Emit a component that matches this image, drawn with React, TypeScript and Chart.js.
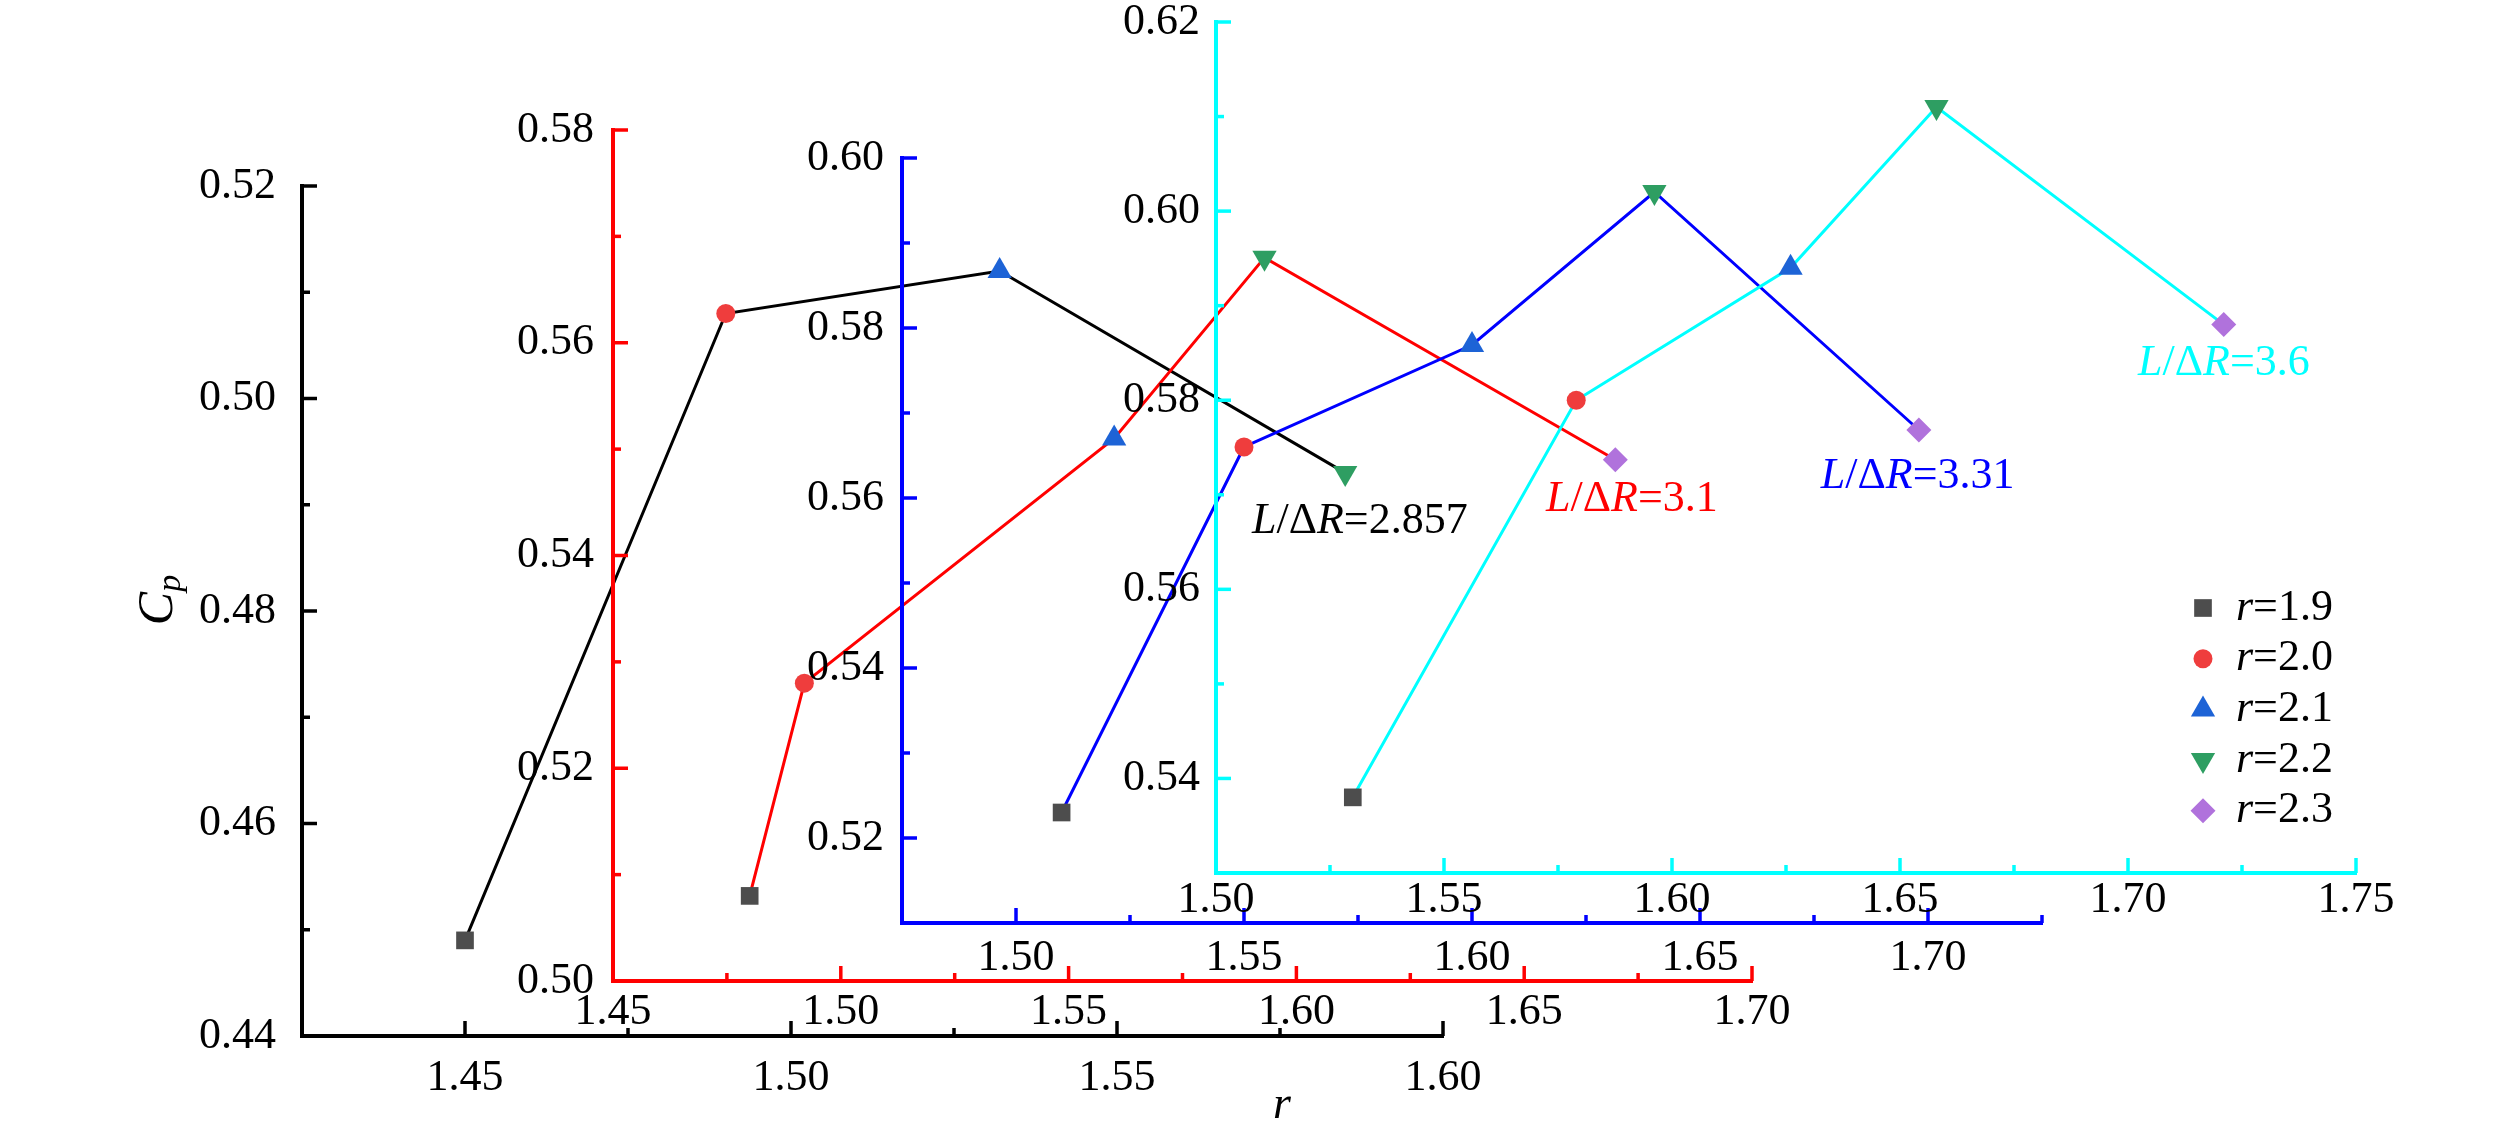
import React, { useEffect, useRef } from 'react';
import { Chart, registerables } from 'chart.js';
import { drawPoint } from 'chart.js/helpers';

Chart.register(...registerables);

const PAGE_W = 2519;
const PAGE_H = 1134;
const FONT = '"Liberation Serif", "Times New Roman", serif';

// r values of the legend, one marker type per value
const R_LABELS = ['1.9', '2.0', '2.1', '2.2', '2.3'];

// L/ΔR = 2.857 (black axes)
const R_2857 = [1.45, 1.49, 1.532, 1.585];
const CP_2857 = [0.449, 0.508, 0.512, 0.493];
// L/ΔR = 3.1 (red axes)
const R_31 = [1.48, 1.492, 1.56, 1.593, 1.67];
const CP_31 = [0.508, 0.528, 0.551, 0.568, 0.549];
// L/ΔR = 3.31 (blue axes)
const R_331 = [1.51, 1.55, 1.6, 1.64, 1.698];
const CP_331 = [0.523, 0.566, 0.578, 0.596, 0.568];
// L/ΔR = 3.6 (cyan axes)
const R_36 = [1.53, 1.579, 1.626, 1.658, 1.721];
const CP_36 = [0.538, 0.58, 0.594, 0.611, 0.588];

// tick labels
const X_TICKS_2857 = [1.45, 1.5, 1.55, 1.6];
const Y_TICKS_2857 = [0.44, 0.46, 0.48, 0.5, 0.52];
const X_TICKS_31 = [1.45, 1.5, 1.55, 1.6, 1.65, 1.7];
const Y_TICKS_31 = [0.5, 0.52, 0.54, 0.56, 0.58];
const X_TICKS_331 = [1.5, 1.55, 1.6, 1.65, 1.7];
const Y_TICKS_331 = [0.52, 0.54, 0.56, 0.58, 0.6];
const X_TICKS_36 = [1.5, 1.55, 1.6, 1.65, 1.7, 1.75];
const Y_TICKS_36 = [0.54, 0.56, 0.58, 0.6, 0.62];

const MARKERS = [
  { style: 'rect', rotation: 0, radius: 12.5, color: '#4d4d4d' },
  { style: 'circle', rotation: 0, radius: 9.5, color: '#ef3d3d' },
  { style: 'triangle', rotation: 0, radius: 14, color: '#1d63d6' },
  { style: 'triangle', rotation: 180, radius: 14, color: '#2e9e62' },
  { style: 'rectRot', rotation: 0, radius: 12.5, color: '#b072dc' },
];

interface Panel {
  name: string;
  color: string;
  xs: number[];
  ys: number[];
  xTicks: number[];
  yTicks: number[];
  xMin: number;
  xMax: number;
  yMin: number;
  yMax: number;
  area: { left: number; top: number; right: number; bottom: number };
  yPad: number;
  xPad: number;
  labelAt: [number, number];
}

const PANELS: Panel[] = [
  {
    name: '2.857', color: '#000000', xs: R_2857, ys: CP_2857,
    xTicks: X_TICKS_2857, yTicks: Y_TICKS_2857,
    xMin: 1.425, xMax: 1.6, yMin: 0.44, yMax: 0.52,
    area: { left: 302, top: 186, right: 1443, bottom: 1036 },
    yPad: 26, xPad: 20, labelAt: [1.5707, 0.4884],
  },
  {
    name: '3.1', color: '#ff0000', xs: R_31, ys: CP_31,
    xTicks: X_TICKS_31, yTicks: Y_TICKS_31,
    xMin: 1.45, xMax: 1.7, yMin: 0.5, yMax: 0.58,
    area: { left: 613, top: 130, right: 1752, bottom: 981 },
    yPad: 19, xPad: 9, labelAt: [1.6548, 0.5453],
  },
  {
    name: '3.31', color: '#0000ff', xs: R_331, ys: CP_331,
    xTicks: X_TICKS_331, yTicks: Y_TICKS_331,
    xMin: 1.475, xMax: 1.725, yMin: 0.51, yMax: 0.6,
    area: { left: 902, top: 158, right: 2042, bottom: 923 },
    yPad: 18, xPad: 13, labelAt: [1.6765, 0.5625],
  },
  {
    name: '3.6', color: '#00ffff', xs: R_36, ys: CP_36,
    xTicks: X_TICKS_36, yTicks: Y_TICKS_36,
    xMin: 1.5, xMax: 1.75, yMin: 0.53, yMax: 0.62,
    area: { left: 1216, top: 22, right: 2356, bottom: 873 },
    yPad: 16, xPad: 5, labelAt: [1.7022, 0.5839],
  },
];

type Run = { t: string; it?: boolean };

function drawRuns(ctx: CanvasRenderingContext2D, runs: Run[], x: number, y: number, size: number, color: string) {
  ctx.fillStyle = color;
  ctx.textBaseline = 'middle';
  ctx.textAlign = 'left';
  let cx = x;
  for (const r of runs) {
    ctx.font = `${r.it ? 'italic ' : ''}${size}px ${FONT}`;
    ctx.fillText(r.t, cx, y);
    cx += ctx.measureText(r.t).width;
  }
}

const Y_AXIS_W = 140;
const X_AXIS_H = 60;

function buildConfig(panel: Panel, index: number): any {
  const { area } = panel;

  const inwardTicks = {
    id: 'inwardTicks',
    afterDraw(chart: Chart) {
      const { ctx, chartArea } = chart;
      const sx: any = chart.scales.x;
      const sy: any = chart.scales.y;
      ctx.save();
      ctx.strokeStyle = panel.color;
      ctx.lineWidth = 3.5;
      const each = (scale: any, majors: number[], draw: (p: number, len: number) => void) => {
        const half = (majors[1] - majors[0]) / 2;
        const k0 = Math.ceil((scale.min - majors[0]) / half - 1e-6);
        for (let k = k0; majors[0] + k * half <= scale.max + 1e-9; k++) {
          const v = majors[0] + k * half;
          const major = majors.some((m) => Math.abs(m - v) < 1e-6);
          draw(scale.getPixelForValue(v), major ? 15 : 8);
        }
      };
      each(sx, panel.xTicks, (px, len) => {
        ctx.beginPath();
        ctx.moveTo(px, chartArea.bottom);
        ctx.lineTo(px, chartArea.bottom - len);
        ctx.stroke();
      });
      each(sy, panel.yTicks, (py, len) => {
        ctx.beginPath();
        ctx.moveTo(chartArea.left, py);
        ctx.lineTo(chartArea.left + len, py);
        ctx.stroke();
      });
      ctx.restore();
    },
  };

  const decorations = {
    id: 'decorations',
    afterDraw(chart: Chart) {
      const { ctx, chartArea } = chart;
      const sx: any = chart.scales.x;
      const sy: any = chart.scales.y;
      ctx.save();
      // L/ΔR label
      drawRuns(
        ctx,
        [{ t: 'L', it: true }, { t: '/' }, { t: 'Δ' }, { t: 'R', it: true }, { t: '=' + panel.name }],
        sx.getPixelForValue(panel.labelAt[0]),
        sy.getPixelForValue(panel.labelAt[1]),
        44,
        panel.color,
      );

      if (index === 0) {
        // axis titles
        ctx.save();
        ctx.translate(chartArea.left - 130, 600);
        ctx.rotate(-Math.PI / 2);
        ctx.fillStyle = '#000';
        ctx.textBaseline = 'alphabetic';
        ctx.font = `italic 50px ${FONT}`;
        const wC = ctx.measureText('C').width;
        ctx.font = `italic 34px ${FONT}`;
        const wp = ctx.measureText('p').width;
        const start = -(wC + wp) / 2;
        ctx.font = `italic 50px ${FONT}`;
        ctx.fillText('C', start, 0);
        ctx.font = `italic 34px ${FONT}`;
        ctx.fillText('p', start + wC, 8);
        ctx.restore();

        ctx.fillStyle = '#000';
        ctx.font = `italic 46px ${FONT}`;
        ctx.textAlign = 'center';
        ctx.textBaseline = 'alphabetic';
        ctx.fillText('r', chartArea.left + 980, chartArea.bottom + 82);
      }

      if (index === PANELS.length - 1) {
        // legend
        const mx = chartArea.right - 153;
        const y0 = chartArea.bottom - 265;
        R_LABELS.forEach((lab, i) => {
          const m = MARKERS[i];
          const y = y0 + i * 50.7;
          ctx.fillStyle = m.color;
          drawPoint(ctx, { pointStyle: m.style as any, rotation: m.rotation, radius: m.radius, borderWidth: 0 }, mx, y);
          drawRuns(ctx, [{ t: 'r', it: true }, { t: '=' + lab }], mx + 33, y, 44, '#000');
        });
      }
      ctx.restore();
    },
  };

  const tickFont = { family: FONT, size: 44, lineHeight: 1 };

  return {
    type: 'scatter',
    data: {
      datasets: [
        {
          label: 'L/ΔR=' + panel.name,
          data: panel.xs.map((x, i) => ({ x, y: panel.ys[i] })),
          showLine: true,
          borderColor: panel.color,
          borderWidth: 3,
          tension: 0,
          clip: false,
          pointStyle: panel.xs.map((_, i) => MARKERS[i].style),
          pointRotation: panel.xs.map((_, i) => MARKERS[i].rotation),
          pointRadius: panel.xs.map((_, i) => MARKERS[i].radius),
          pointHoverRadius: panel.xs.map((_, i) => MARKERS[i].radius),
          pointBackgroundColor: panel.xs.map((_, i) => MARKERS[i].color),
          pointBorderColor: panel.xs.map((_, i) => MARKERS[i].color),
          pointBorderWidth: 0,
        },
      ],
    },
    options: {
      responsive: false,
      maintainAspectRatio: false,
      animation: false,
      devicePixelRatio: 1,
      events: [],
      layout: {
        padding: {
          left: area.left - Y_AXIS_W,
          top: area.top,
          right: PAGE_W - area.right,
          bottom: PAGE_H - area.bottom - X_AXIS_H,
        },
      },
      plugins: { legend: { display: false }, tooltip: { enabled: false } },
      scales: {
        x: {
          type: 'linear',
          position: 'bottom',
          min: panel.xMin,
          max: panel.xMax,
          grid: { display: false, drawTicks: false },
          border: { display: true, color: panel.color, width: 4 },
          ticks: {
            color: '#000',
            font: tickFont,
            padding: panel.xPad,
            autoSkip: false,
            maxRotation: 0,
            minRotation: 0,
            callback: (v: any) => Number(v).toFixed(2),
          },
          afterBuildTicks: (s: any) => {
            s.ticks = panel.xTicks.map((value) => ({ value }));
          },
          afterFit: (s: any) => {
            s.height = X_AXIS_H;
            s.paddingLeft = 0;
            s.paddingRight = 0;
          },
        },
        y: {
          type: 'linear',
          position: 'left',
          min: panel.yMin,
          max: panel.yMax,
          grid: { display: false, drawTicks: false },
          border: { display: true, color: panel.color, width: 4 },
          ticks: {
            color: '#000',
            font: tickFont,
            padding: panel.yPad,
            autoSkip: false,
            callback: (v: any) => Number(v).toFixed(2),
          },
          afterBuildTicks: (s: any) => {
            s.ticks = panel.yTicks.map((value) => ({ value }));
          },
          afterFit: (s: any) => {
            s.width = Y_AXIS_W;
            s.paddingTop = 0;
            s.paddingBottom = 0;
          },
        },
      },
    },
    plugins: [inwardTicks, decorations],
  };
}

const PanelChart: React.FC<{ panel: Panel; index: number }> = ({ panel, index }) => {
  const canvasRef = useRef<HTMLCanvasElement>(null);

  useEffect(() => {
    if (!canvasRef.current) return;
    const chart = new Chart(canvasRef.current, buildConfig(panel, index));
    return () => {
      chart.destroy();
    };
  }, [panel, index]);

  return (
    <canvas
      ref={canvasRef}
      width={PAGE_W}
      height={PAGE_H}
      style={{ position: 'absolute', left: 0, top: 0, width: PAGE_W, height: PAGE_H }}
    />
  );
};

export default function App() {
  return (
    <div
      style={{
        position: 'fixed',
        left: 0,
        top: 0,
        width: PAGE_W,
        height: PAGE_H,
        overflow: 'hidden',
        background: '#fff',
      }}
    >
      {PANELS.map((p, i) => (
        <PanelChart key={p.name} panel={p} index={i} />
      ))}
    </div>
  );
}
